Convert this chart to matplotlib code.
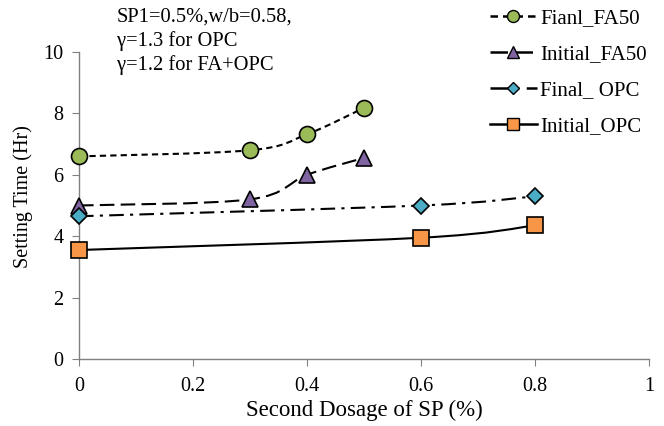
import matplotlib
matplotlib.use("Agg")
import matplotlib.pyplot as plt
from matplotlib.path import Path
from matplotlib.patches import PathPatch
from matplotlib.lines import Line2D
import numpy as np

plt.rcParams['font.family'] = ['Liberation Serif', 'DejaVu Serif']

x_fa = [0, 0.3, 0.4, 0.5]
final_fa50 = [6.6, 6.8, 7.32, 8.18]
initial_fa50 = [5.0, 5.2, 6.0, 6.55]
x_opc = [0, 0.6, 0.8]
final_opc = [4.65, 5.0, 5.3]
initial_opc = [3.55, 3.95, 4.35]

labels = ["Fianl_FA50", "Initial_FA50", "Final_ OPC", "Initial_OPC"]
colors = ["#9BBB59", "#8064A2", "#4BACC6", "#F79646"]
markers = ["o", "^", "D", "s"]
msizes = [11.5, 11, 8, 12]
styles = [(0, (3, 2)), (0, (7, 3)), (0, (7, 3, 1.5, 3)), "-"]

W, H = 664, 426
fig = plt.figure(figsize=(W / 100, H / 100), dpi=100)
ax = fig.add_axes([79 / W, 1 - 359 / H, (649 - 79) / W, (359 - 52) / H])


def smooth_path(xs, ys):
    xs = np.asarray(xs, float); ys = np.asarray(ys, float)
    sx = 570.0; sy = 30.7
    px, py = xs * sx, ys * sy
    n = len(px)
    verts = [(xs[0], ys[0])]
    codes = [Path.MOVETO]
    for i in range(n - 1):
        p0 = (px[i - 1], py[i - 1]) if i > 0 else (px[i], py[i])
        p1 = (px[i], py[i]); p2 = (px[i + 1], py[i + 1])
        p3 = (px[i + 2], py[i + 2]) if i + 2 < n else p2
        t = 1 / 6.0
        c1 = (p1[0] + (p2[0] - p0[0]) * t, p1[1] + (p2[1] - p0[1]) * t)
        c2 = (p2[0] - (p3[0] - p1[0]) * t, p2[1] - (p3[1] - p1[1]) * t)
        verts += [(c1[0] / sx, c1[1] / sy), (c2[0] / sx, c2[1] / sy), (p2[0] / sx, p2[1] / sy)]
        codes += [Path.CURVE4] * 3
    return Path(verts, codes)


series = [(x_fa, final_fa50), (x_fa, initial_fa50), (x_opc, final_opc), (x_opc, initial_opc)]
handles = []
for (xs, ys), lab, c, m, ms, ls in zip(series, labels, colors, markers, msizes, styles):
    patch = PathPatch(smooth_path(xs, ys), facecolor='none', edgecolor='black',
                      lw=1.5, linestyle=ls, zorder=2)
    ax.add_patch(patch)
    ax.plot(xs, ys, linestyle='none', marker=m, markersize=ms, markerfacecolor=c,
            markeredgecolor='black', markeredgewidth=1.2, zorder=3, clip_on=False)
    handles.append(Line2D([], [], color='black', lw=1.8, linestyle=ls, marker=m,
                          markersize=ms * 0.75, markerfacecolor=c, markeredgecolor='black'))

ax.set_xlim(0, 1)
ax.set_ylim(0, 10)
ax.set_xticks([0, 0.2, 0.4, 0.6, 0.8, 1])
ax.set_xticklabels(["0", "0.2", "0.4", "0.6", "0.8", "1"])
ax.set_yticks([0, 2, 4, 6, 8, 10])
for s in ['top', 'right']:
    ax.spines[s].set_visible(False)
for s in ['left', 'bottom']:
    ax.spines[s].set_color('#808080')
    ax.spines[s].set_linewidth(1.0)
ax.tick_params(axis='both', colors='#808080', labelcolor='black', labelsize=14.5,
               direction='out', length=5)
ax.tick_params(axis='x', pad=8)
ax.tick_params(axis='y', pad=6)
ax.set_xlabel("Second Dosage of SP (%)", fontsize=16.5, labelpad=3)
ax.set_ylabel("Setting Time (Hr)", fontsize=14.5)
ax.yaxis.set_label_coords(-0.08, 0.53)

fig.legend(handles=handles, labels=labels, loc='upper left',
           bbox_to_anchor=(490 / W, 1 - 9 / H), bbox_transform=fig.transFigure,
           borderaxespad=0, borderpad=0,
           frameon=False, fontsize=15, handlelength=2.25, labelspacing=0.78, handletextpad=0.15)

fig.text(117 / W, 1 - 70 / H, "SP1=0.5%,w/b=0.58,\nγ=1.3 for OPC\nγ=1.2 for FA+OPC",
         fontsize=14.8, va='baseline', ha='left', linespacing=1.3)

fig.savefig("out.png", dpi=100)
